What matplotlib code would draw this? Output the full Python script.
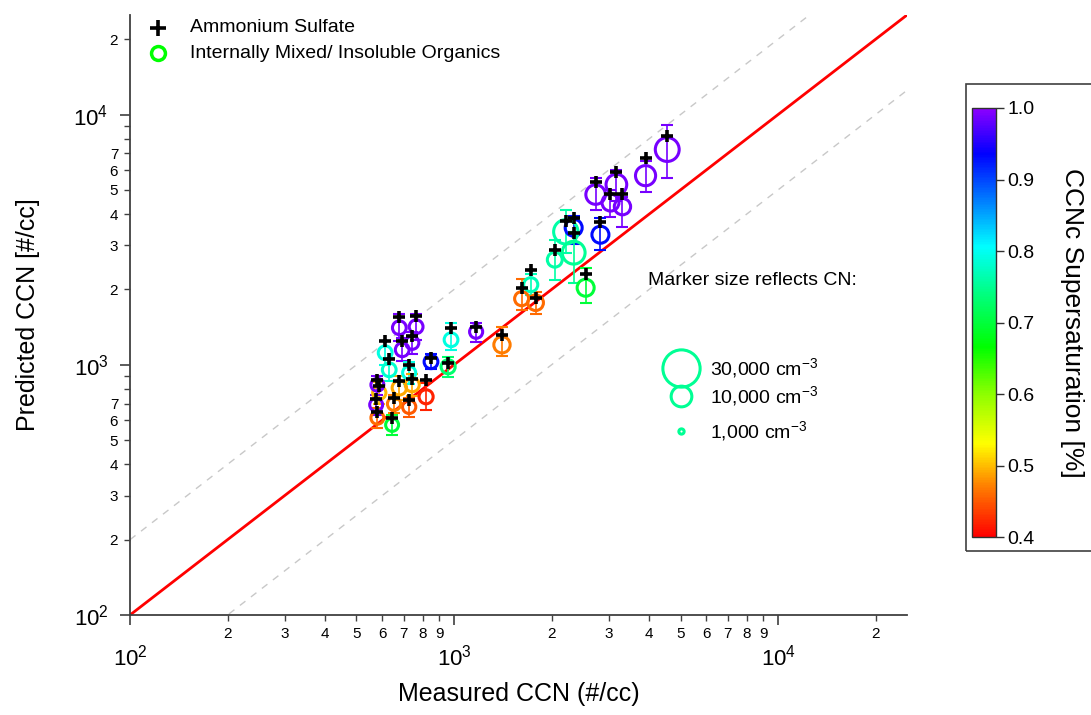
import matplotlib
matplotlib.use("Agg")
import matplotlib.pyplot as plt
import numpy as np
from matplotlib.colors import LinearSegmentedColormap, Normalize
from matplotlib.lines import Line2D
from matplotlib.patches import Rectangle

plt.rcParams['font.family'] = ['Liberation Sans', 'DejaVu Sans']
plt.rcParams['mathtext.fontset'] = 'custom'
plt.rcParams['mathtext.rm'] = 'Liberation Sans'
plt.rcParams['mathtext.it'] = 'Liberation Sans:italic'

# ---------------- data ----------------
measured = [4550, 3900, 3170, 2735, 3040, 3310, 2830, 2340, 2213, 2340,
            2046, 2548, 1725, 1617, 1786, 1406, 979, 1170, 849, 959,
            820, 678, 764, 692, 743, 613, 631, 727, 678, 743,
            588, 580, 575, 727, 580, 644, 653]
pred_org = [7250, 5700, 5250, 4790, 4450, 4285, 3310, 3530, 3400, 2806,
            2630, 2032, 2090, 1837, 1770, 1202, 1259, 1355, 1028, 982,
            745, 1406, 1419, 1148, 1225, 1117, 955, 929, 809, 832,
            773, 832, 692, 679, 614, 575, 698]
pred_as = [8200, 6700, 5900, 5400, 4800, 4830, 3730, 3850, 3750, 3350,
           2880, 2310, 2400, 2030, 1850, 1320, 1406, 1420, 1060, 1020,
           870, 1550, 1560, 1250, 1300, 1250, 1050, 1000, 860, 880,
           820, 870, 730, 720, 650, 610, 740]
err_lo = [5600, 4900, 4500, 4150, 3900, 3550, 2880, 3050, 2800, 2130,
          2190, 1770, 1900, 1650, 1600, 1080, 1148, 1236, 960, 895,
          661, 1250, 1260, 1040, 1100, 1000, 860, 840, 720, 750,
          700, 760, 630, 620, 560, 525, 640]
err_hi = [9100, 6500, 6000, 5600, 5000, 4700, 3870, 3950, 4150, 3400,
          3160, 2440, 2300, 2200, 1950, 1420, 1472, 1472, 1100, 1076,
          847, 1600, 1600, 1280, 1350, 1250, 1060, 1030, 900, 920,
          850, 900, 760, 740, 670, 630, 760]
supersat = [0.99, 0.99, 0.99, 0.99, 0.99, 0.99, 0.93, 0.93, 0.76, 0.75,
            0.76, 0.70, 0.77, 0.46, 0.46, 0.47, 0.79, 0.99, 0.93, 0.73,
            0.42, 0.99, 0.99, 0.99, 0.99, 0.79, 0.78, 0.79, 0.49, 0.49,
            0.50, 0.99, 0.99, 0.45, 0.46, 0.70, 0.47]
cn = [13000, 9500, 10000, 9000, 7000, 6500, 7000, 7000, 13500, 12000,
      5500, 7000, 5000, 5000, 6000, 6500, 4800, 4400, 4800, 5000,
      5000, 4800, 4800, 4800, 4500, 4800, 4800, 4400, 5200, 5000,
      4500, 4300, 4300, 4500, 4300, 4300, 4500]

legend_cn = [30000, 10000, 1000]
legend_cn_labels = ["30,000 cm$^{-3}$", "10,000 cm$^{-3}$", "1,000 cm$^{-3}$"]
legend_ss = 0.75

cbar_ticks = [0.4, 0.5, 0.6, 0.7, 0.8, 0.9, 1.0]
x_major = [1e2, 1e3, 1e4]
x_major_labels = ["$10^{2}$", "$10^{3}$", "$10^{4}$"]
minor_mult = [2, 3, 4, 5, 6, 7, 8, 9]

# ---------------- colormap ----------------
cmap = LinearSegmentedColormap.from_list("igor_rainbow", [
    (0.0, (1.0, 0.0, 0.0)),
    (0.117, (1.0, 0.5, 0.0)),
    (0.217, (1.0, 1.0, 0.0)),
    (0.333, (0.55, 1.0, 0.0)),
    (0.442, (0.0, 1.0, 0.0)),
    (0.567, (0.0, 1.0, 0.5)),
    (0.677, (0.0, 1.0, 1.0)),
    (0.783, (0.0, 0.5, 1.0)),
    (0.895, (0.0, 0.0, 1.0)),
    (1.0, (0.55, 0.0, 1.0)),
])
norm = Normalize(vmin=0.4, vmax=1.0)

W, H = 1091, 715
fig = plt.figure(figsize=(W / 100, H / 100), dpi=100)
ax = fig.add_axes([130 / W, 100 / H, 777 / W, 600 / H])


def cn_to_s(v):
    d_px = 0.226 * np.sqrt(np.asarray(v, dtype=float)) - 1.9
    d_pt = d_px * 0.72
    return d_pt ** 2


ax.set_xscale('log')
ax.set_yscale('log')
ax.set_xlim(100, 25000)
ax.set_ylim(100, 25000)

# reference lines
ref = np.array([100, 25000])
ax.plot(ref, 2 * ref, color='#c8c8c8', lw=1, ls=(0, (5, 5)), zorder=1)
ax.plot(ref, ref / 2, color='#c8c8c8', lw=1, ls=(0, (5, 5)), zorder=1)
ax.plot(ref, ref, color='#ff0000', lw=2, zorder=2)

cols = cmap(norm(np.array(supersat)))
for xi, yi, lo, hi, c in zip(measured, pred_org, err_lo, err_hi, cols):
    ax.errorbar([xi], [yi], yerr=[[yi - lo], [hi - yi]], fmt='none',
                ecolor=c, elinewidth=1.2, capsize=4.5, capthick=1.5, zorder=3)
ax.scatter(measured, pred_org, s=cn_to_s(cn), facecolors='none',
           edgecolors=cols, linewidths=2.2, zorder=4)
ax.scatter(measured, pred_as, marker='+', s=80, c='black', linewidths=2.6, zorder=5)

# axes styling
for sp in ['top', 'right']:
    ax.spines[sp].set_visible(False)
for sp in ['left', 'bottom']:
    ax.spines[sp].set_color('#404040')
    ax.spines[sp].set_linewidth(1.3)

x_minor = [m * d for d in [1e2, 1e3] for m in minor_mult] + [2e4]
x_minor_labels = [str(m) for d in [1e2, 1e3] for m in minor_mult] + ['2']
y_minor = x_minor
y_minor_labels = [str(m) if m <= 7 else '' for d in [1e2, 1e3] for m in minor_mult] + ['2']

ax.set_xticks(x_major)
ax.set_xticklabels(x_major_labels)
ax.set_xticks(x_minor, minor=True)
ax.set_xticklabels(x_minor_labels, minor=True)
ax.set_yticks(x_major)
ax.set_yticklabels(x_major_labels)
ax.set_yticks(y_minor, minor=True)
ax.set_yticklabels(y_minor_labels, minor=True)

ax.tick_params(axis='x', which='major', length=7.5, width=1.2, color='#404040',
               labelsize=16, pad=14)
ax.tick_params(axis='x', which='minor', length=4.5, width=1.0, color='#404040',
               labelsize=11, pad=4)
ax.tick_params(axis='y', which='major', length=7.5, width=1.2, color='#404040',
               labelsize=16, pad=8)
ax.tick_params(axis='y', which='minor', length=4.5, width=1.0, color='#404040',
               labelsize=11, pad=4)

ax.set_xlabel("Measured CCN (#/cc)", fontsize=18, labelpad=8)
ax.set_ylabel("Predicted CCN [#/cc]", fontsize=18, labelpad=24)

# top legend
def fx(px):
    return px / W


def fy(py):
    return 1 - py / H


fig.add_artist(Line2D([fx(158)], [fy(28)], marker='+', color='black',
                      markersize=11, markeredgewidth=2.6, transform=fig.transFigure))
fig.add_artist(Line2D([fx(158)], [fy(53)], marker='o', color='none',
                      markerfacecolor='none', markeredgecolor='#00ff00',
                      markersize=10, markeredgewidth=2.5, transform=fig.transFigure))
fig.text(fx(190), fy(28), "Ammonium Sulfate", fontsize=14, va='center', ha='left')
fig.text(fx(190), fy(53), "Internally Mixed/ Insoluble Organics", fontsize=14,
         va='center', ha='left')

# marker size legend
fig.text(fx(648), fy(280), "Marker size reflects CN:", fontsize=14, va='center', ha='left')
leg_y = [368, 396, 431]
leg_c = cmap(norm(legend_ss))
leg_s = cn_to_s(legend_cn)
for yy, ss_, lab in zip(leg_y, leg_s, legend_cn_labels):
    fig.add_artist(Line2D([fx(681)], [fy(yy)], marker='o', color='none',
                          markerfacecolor='none', markeredgecolor=leg_c,
                          markersize=np.sqrt(ss_), markeredgewidth=2.2,
                          transform=fig.transFigure))
    fig.text(fx(710), fy(yy), lab, fontsize=14, va='center', ha='left')

# colorbar
cax = fig.add_axes([972 / W, (H - 537) / H, 24 / W, 429 / H])
sm = matplotlib.cm.ScalarMappable(norm=norm, cmap=cmap)
cb = fig.colorbar(sm, cax=cax, ticks=cbar_ticks)
cb.ax.set_yticklabels([f"{t:.1f}" for t in cbar_ticks])
cb.ax.tick_params(length=6, width=1.0, color='#303030', labelsize=14, pad=2)
cb.outline.set_linewidth(1.0)
cb.outline.set_edgecolor('#303030')
cb.set_label("CCNc Supersaturation [%]", fontsize=19, rotation=270, labelpad=36)
fig.add_artist(Rectangle((fx(966), fy(551)), 200 / W, (551 - 84) / H,
                         fill=False, edgecolor='#404040', lw=1.2,
                         transform=fig.transFigure))

fig.savefig("out.png", dpi=100)
